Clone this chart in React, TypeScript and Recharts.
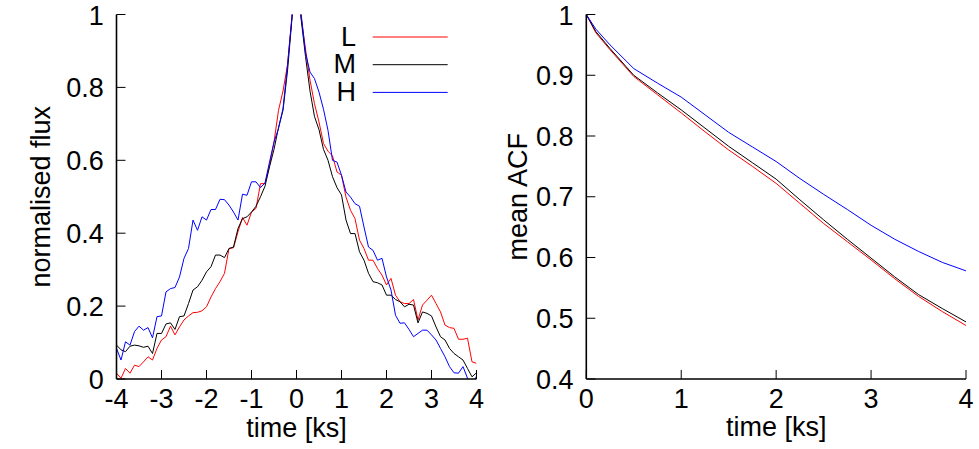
import React from 'react';
import { LineChart, Line, XAxis, YAxis, Legend } from 'recharts';

const FONT = '"Liberation Sans", Arial, Helvetica, sans-serif';
const FS = 27;

// ---------- series meta ----------
const seriesNames = ['L', 'M', 'H'];
const seriesColors = ['#ff0000', '#000000', '#0000ff'];

// ---------- left panel: normalised flux ----------
const fluxTime = [
  -4.0, -3.9, -3.8, -3.7, -3.6, -3.5, -3.4, -3.3, -3.2, -3.1,
  -3.0, -2.9, -2.8, -2.7, -2.6, -2.5, -2.4, -2.3, -2.2, -2.1,
  -2.0, -1.9, -1.8, -1.7, -1.6, -1.5, -1.4, -1.3, -1.2, -1.1,
  -1.0, -0.9, -0.8, -0.7, -0.6, -0.5, -0.4, -0.3, -0.2, -0.1,
  0.0,
  0.1, 0.2, 0.3, 0.4, 0.5, 0.6, 0.7, 0.8, 0.9, 1.0,
  1.1, 1.2, 1.3, 1.4, 1.5, 1.6, 1.7, 1.8, 1.9, 2.0,
  2.1, 2.2, 2.3, 2.4, 2.5, 2.6, 2.7, 2.8, 2.9, 3.0,
  3.1, 3.2, 3.3, 3.4, 3.5, 3.6, 3.7, 3.8, 3.9, 4.0,
];

const fluxL = [
  0.016, 0.002, 0.029, 0.016, 0.038, 0.034, 0.047, 0.061, 0.052, 0.084,
  0.107, 0.116, 0.145, 0.121, 0.143, 0.162, 0.173, 0.182, 0.183, 0.187,
  0.198, 0.225, 0.248, 0.267, 0.290, 0.358, 0.360, 0.404, 0.443, 0.422,
  0.458, 0.468, 0.536, 0.536, 0.586, 0.650, 0.737, 0.790, 0.862, 0.995,
  1.2,
  0.995, 0.905, 0.820, 0.755, 0.705, 0.646, 0.625, 0.612, 0.568, 0.559,
  0.499, 0.463, 0.440, 0.381, 0.358, 0.326, 0.326, 0.303, 0.285, 0.258,
  0.276, 0.230, 0.212, 0.207, 0.207, 0.218, 0.162, 0.203, 0.216, 0.230,
  0.207, 0.184, 0.148, 0.141, 0.139, 0.109, 0.109, 0.112, 0.047, 0.043,
];

const fluxM = [
  0.093, 0.080, 0.075, 0.090, 0.093, 0.091, 0.087, 0.090, 0.070, 0.125,
  0.125, 0.151, 0.154, 0.136, 0.171, 0.173, 0.207, 0.244, 0.253, 0.271,
  0.294, 0.308, 0.340, 0.340, 0.333, 0.358, 0.362, 0.413, 0.440, 0.445,
  0.458, 0.474, 0.500, 0.529, 0.582, 0.630, 0.690, 0.737, 0.845, 0.990,
  1.2,
  0.990, 0.885, 0.790, 0.720, 0.684, 0.630, 0.600, 0.555, 0.525, 0.505,
  0.436, 0.399, 0.399, 0.349, 0.326, 0.290, 0.267, 0.264, 0.258, 0.230,
  0.230, 0.218, 0.212, 0.198, 0.205, 0.203, 0.154, 0.184, 0.180, 0.173,
  0.143, 0.116, 0.107, 0.084, 0.070, 0.061, 0.052, 0.029, 0.006, 0.017,
];

const fluxH = [
  0.084, 0.052, 0.102, 0.093, 0.130, 0.145, 0.134, 0.141, 0.113, 0.171,
  0.173, 0.239, 0.248, 0.251, 0.280, 0.331, 0.358, 0.436, 0.408, 0.445,
  0.436, 0.465, 0.465, 0.493, 0.492, 0.477, 0.458, 0.436, 0.507, 0.504,
  0.541, 0.541, 0.525, 0.538, 0.595, 0.650, 0.687, 0.742, 0.860, 0.995,
  1.2,
  1.005, 0.895, 0.842, 0.824, 0.787, 0.740, 0.682, 0.600, 0.595, 0.559,
  0.513, 0.499, 0.481, 0.474, 0.417, 0.362, 0.353, 0.326, 0.331, 0.280,
  0.244, 0.175, 0.153, 0.154, 0.136, 0.116, 0.125, 0.134, 0.134, 0.121,
  0.107, 0.084, 0.061, 0.034, 0.017, 0.016, 0.034, 0.002, -0.020, 0.008,
];

const fluxXTicks = [-4, -3, -2, -1, 0, 1, 2, 3, 4];
const fluxYTicks = [0, 0.2, 0.4, 0.6, 0.8, 1];

// ---------- right panel: mean ACF ----------
const acfTime = [0, 0.1, 0.25, 0.5, 0.75, 1, 1.25, 1.5, 1.75, 2, 2.25, 2.5, 2.75, 3, 3.25, 3.5, 3.75, 4];
const acfL = [1.0, 0.970, 0.942, 0.898, 0.868, 0.838, 0.807, 0.777, 0.750, 0.722, 0.689, 0.656, 0.626, 0.596, 0.565, 0.536, 0.511, 0.488];
const acfM = [1.0, 0.972, 0.944, 0.900, 0.871, 0.843, 0.813, 0.783, 0.756, 0.729, 0.695, 0.662, 0.630, 0.599, 0.568, 0.539, 0.516, 0.494];
const acfH = [1.0, 0.976, 0.950, 0.911, 0.887, 0.864, 0.835, 0.806, 0.782, 0.758, 0.730, 0.704, 0.679, 0.653, 0.630, 0.610, 0.592, 0.578];

const acfXTicks = [0, 1, 2, 3, 4];
const acfYTicks = [0.4, 0.5, 0.6, 0.7, 0.8, 0.9, 1];

const fluxRows = fluxTime.map((t, i) => ({ t, L: fluxL[i], M: fluxM[i], H: fluxH[i] }));
const acfRows = acfTime.map((t, i) => ({ t, L: acfL[i], M: acfM[i], H: acfH[i] }));

// ---------- helpers ----------
const tickStyle = { fill: '#000', fontSize: FS, fontFamily: FONT };
const axisLineStyle = { stroke: '#000', strokeWidth: 1.6 };
const tickLineStyle = { stroke: '#000', strokeWidth: 1 };

const makeXLabel = (text: string, baselineOffset: number) => (props: any) => {
  const vb = props.viewBox || {};
  const cx = vb.x + vb.width / 2;
  const by = vb.y + baselineOffset;
  return (
    <text x={cx} y={by} textAnchor="middle" fontFamily={FONT} fontSize={FS} fill="#000">
      {text}
    </text>
  );
};

const makeYLabel = (text: string, gap: number) => (props: any) => {
  const vb = props.viewBox || {};
  const bx = vb.x + vb.width - gap;
  const cy = vb.y + vb.height / 2;
  return (
    <text
      x={bx}
      y={cy}
      transform={`rotate(-90, ${bx}, ${cy})`}
      textAnchor="middle"
      fontFamily={FONT}
      fontSize={FS}
      fill="#000"
    >
      {text}
    </text>
  );
};

const LegendBox = () => (
  <svg width={160} height={90} style={{ overflow: 'visible' }}>
    {seriesNames.map((n, i) => {
      const cy = 14 + i * 27.7;
      return (
        <g key={n}>
          <text x={56} y={cy + 8.6} textAnchor="end" fontFamily={FONT} fontSize={FS} fill="#000">
            {n}
          </text>
          <line x1={72.7} x2={147.7} y1={cy} y2={cy} stroke={seriesColors[i]} strokeWidth={1} />
        </g>
      );
    })}
  </svg>
);

const renderSeries = () =>
  seriesNames.map((n, i) => (
    <Line
      key={n}
      dataKey={n}
      name={n}
      type="linear"
      stroke={seriesColors[i]}
      strokeWidth={1}
      dot={false}
      activeDot={false}
      isAnimationActive={false}
    />
  ));

export default function App() {
  return (
    <div style={{ position: 'absolute', left: 0, top: 0, width: 979, height: 449, background: '#fff' }}>
      <div style={{ position: 'absolute', left: 0, top: 0 }}>
        <LineChart
          width={490}
          height={449}
          data={fluxRows}
          margin={{ top: 14.5, right: 13.5, bottom: 0, left: 0 }}
        >
          <XAxis
            dataKey="t"
            type="number"
            domain={[-4, 4]}
            ticks={fluxXTicks}
            allowDataOverflow
            height={70}
            tick={tickStyle}
            tickSize={-9}
            tickMargin={19}
            axisLine={axisLineStyle}
            tickLine={tickLineStyle}
            label={makeXLabel('time [ks]', 57.5)}
          />
          <XAxis
            xAxisId="top"
            orientation="top"
            dataKey="t"
            type="number"
            domain={[-4, 4]}
            ticks={fluxXTicks}
            allowDataOverflow
            height={0}
            tick={false}
            tickSize={-9}
            axisLine={axisLineStyle}
            tickLine={tickLineStyle}
          />
          <YAxis
            type="number"
            domain={[0, 1]}
            ticks={fluxYTicks}
            allowDataOverflow
            width={116.5}
            tick={tickStyle}
            tickSize={-9}
            tickMargin={21.7}
            axisLine={axisLineStyle}
            tickLine={tickLineStyle}
            label={makeYLabel('normalised flux', 66.5)}
          />
          <YAxis
            yAxisId="right"
            orientation="right"
            type="number"
            domain={[0, 1]}
            ticks={fluxYTicks}
            allowDataOverflow
            width={0}
            tick={false}
            tickSize={-9}
            axisLine={axisLineStyle}
            tickLine={tickLineStyle}
          />
          {renderSeries()}
          <Legend
            layout="vertical"
            align="center"
            verticalAlign="middle"
            content={LegendBox}
            wrapperStyle={{ left: 300, top: 23.3, width: 160, height: 90 }}
          />
        </LineChart>
      </div>
      <div style={{ position: 'absolute', left: 490, top: 0 }}>
        <LineChart
          width={489}
          height={449}
          data={acfRows}
          margin={{ top: 14.5, right: 13, bottom: 0, left: 0 }}
        >
          <XAxis
            dataKey="t"
            type="number"
            domain={[0, 4]}
            ticks={acfXTicks}
            allowDataOverflow
            height={70}
            tick={tickStyle}
            tickSize={-9}
            tickMargin={19}
            axisLine={axisLineStyle}
            tickLine={tickLineStyle}
            label={makeXLabel('time [ks]', 57)}
          />
          <XAxis
            xAxisId="top"
            orientation="top"
            dataKey="t"
            type="number"
            domain={[0, 4]}
            ticks={acfXTicks}
            allowDataOverflow
            height={0}
            tick={false}
            tickSize={-9}
            axisLine={axisLineStyle}
            tickLine={tickLineStyle}
          />
          <YAxis
            type="number"
            domain={[0.4, 1]}
            ticks={acfYTicks}
            allowDataOverflow
            width={96.3}
            tick={tickStyle}
            tickSize={-9}
            tickMargin={21.7}
            axisLine={axisLineStyle}
            tickLine={tickLineStyle}
            label={makeYLabel('mean ACF', 59.6)}
          />
          <YAxis
            yAxisId="right"
            orientation="right"
            type="number"
            domain={[0.4, 1]}
            ticks={acfYTicks}
            allowDataOverflow
            width={0}
            tick={false}
            tickSize={-9}
            axisLine={axisLineStyle}
            tickLine={tickLineStyle}
          />
          {renderSeries()}
        </LineChart>
      </div>
    </div>
  );
}
